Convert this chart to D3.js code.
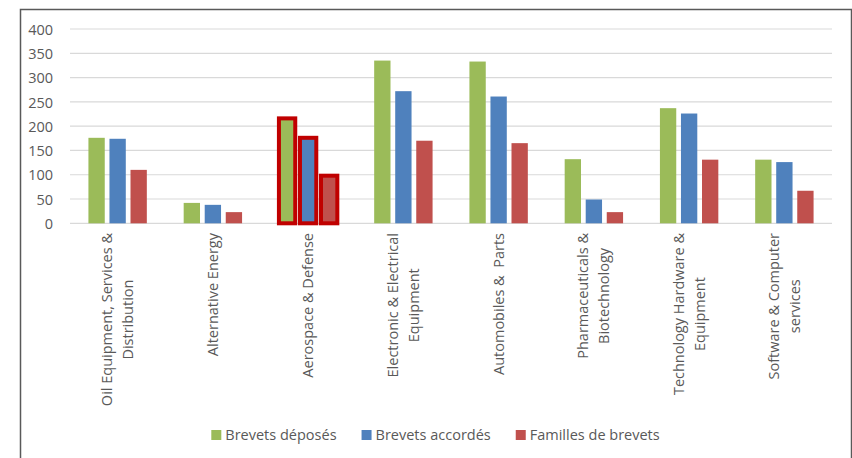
<!DOCTYPE html>
<html>
<head>
<meta charset="utf-8">
<script src="https://cdn.jsdelivr.net/npm/d3@7"></script>
<style>
  html, body { margin: 0; padding: 0; background: #fff; }
  svg { display: block; font-family: "Open Sans", Lato, sans-serif; }
</style>
</head>
<body>
<svg id="chart" width="852" height="458"></svg>
<script>
// Sector labels, one entry per wrapped line
const categories = [
  ["Oil Equipment, Services &", "Distribution"],
  ["Alternative Energy"],
  ["Aerospace & Defense"],
  ["Electronic & Electrical", "Equipment"],
  ["Automobiles &  Parts"],
  ["Pharmaceuticals &", "Biotechnology"],
  ["Technology Hardware &", "Equipment"],
  ["Software & Computer", "services"]
];
const seriesNames = ["Brevets déposés", "Brevets accordés", "Familles de brevets"];
const brevetsDeposes = [176, 42, 216, 335, 333, 132, 237, 131];
const brevetsAccordes = [174, 38, 176, 272, 261, 49, 226, 126];
const famillesBrevets = [110, 23, 98, 170, 165, 23, 131, 67];
const yTicks = [0, 50, 100, 150, 200, 250, 300, 350, 400];
const highlighted = ["Aerospace & Defense"];

const seriesValues = [brevetsDeposes, brevetsAccordes, famillesBrevets];
const colors = ["#9BBB59", "#4F81BD", "#C0504D"];
const textColor = "#595959";
const fontSize = 14.5;

const svg = d3.select("#chart");
const plot = { left: 70, right: 832, top: 29, bottom: 223.3 };

// Outer frame
svg.append("rect")
  .attr("x", 20.5).attr("y", 9.5)
  .attr("width", 831).attr("height", 470)
  .attr("fill", "none").attr("stroke", "#595959").attr("stroke-width", 1.5);

const catKeys = categories.map(c => c.join(" "));
const x0 = d3.scaleBand().domain(catKeys).range([plot.left, plot.right]).padding(0);
const x1 = d3.scaleBand().domain(seriesNames).range([-29.2, 29.2]).paddingInner(0.224);
const y = d3.scaleLinear().domain([0, 400]).range([plot.bottom, plot.top]);

// Gridlines
svg.append("g").selectAll("line").data(yTicks).join("line")
  .attr("x1", plot.left).attr("x2", plot.right)
  .attr("y1", d => y(d)).attr("y2", d => y(d))
  .attr("stroke", "#D9D9D9").attr("stroke-width", 1.2);

// Y axis labels
const yAxis = d3.axisLeft(y).tickValues(yTicks).tickSize(0).tickPadding(0);
const gy = svg.append("g").attr("transform", "translate(53,0)").call(yAxis);
gy.select(".domain").remove();
gy.selectAll("text")
  .attr("fill", textColor).attr("font-size", fontSize)
  .attr("font-family", "'Open Sans', Lato, sans-serif")
  .attr("dy", "0.36em").attr("text-anchor", "end");

// Bars
const rows = catKeys.map((k, i) => ({
  key: k,
  values: seriesNames.map((s, j) => ({ series: s, value: seriesValues[j][i], color: colors[j] }))
}));

const groups = svg.append("g").selectAll("g").data(rows).join("g")
  .attr("transform", d => `translate(${x0(d.key) + x0.bandwidth() / 2},0)`);

groups.selectAll("rect").data(d => d.values.map(v => ({ ...v, key: d.key }))).join("rect")
  .attr("x", d => x1(d.series))
  .attr("width", x1.bandwidth())
  .attr("y", d => y(d.value))
  .attr("height", d => y(0) - y(d.value))
  .attr("fill", d => d.color)
  .attr("stroke", d => highlighted.includes(d.key) ? "#C00000" : "none")
  .attr("stroke-width", 4);

// Category labels, rotated, lines centred on each other
const lineGap = 21;
const labelTop = 233;
const labels = svg.append("g").selectAll("g").data(categories).join("g")
  .attr("transform", (d, i) => `translate(${x0(catKeys[i]) + x0.bandwidth() / 2},${labelTop}) rotate(-90)`);

labels.each(function(lines) {
  const g = d3.select(this);
  const n = lines.length;
  const texts = lines.map((t, i) => g.append("text")
    .attr("fill", textColor).attr("font-size", fontSize)
    .attr("text-anchor", "middle")
    .style("white-space", "pre")
    .attr("y", (i - (n - 1) / 2) * lineGap + 5)
    .text(t));
  const maxLen = d3.max(texts, t => t.node().getComputedTextLength());
  texts.forEach(t => t.attr("x", -maxLen / 2));
});

// Legend
const legend = svg.append("g");
const items = legend.selectAll("g").data(seriesNames).join("g");
items.append("rect").attr("width", 10).attr("height", 10).attr("y", -10)
  .attr("fill", (d, i) => colors[i]);
items.append("text").attr("x", 14).attr("y", 0)
  .attr("fill", textColor).attr("font-size", fontSize).text(d => d);
let offset = 0;
items.each(function() {
  const w = d3.select(this).select("text").node().getComputedTextLength();
  d3.select(this).attr("transform", `translate(${offset},0)`);
  offset += 14 + w + 25;
});
const legendWidth = offset - 25;
legend.attr("transform", `translate(${435.5 - legendWidth / 2},440)`);
</script>
</body>
</html>
